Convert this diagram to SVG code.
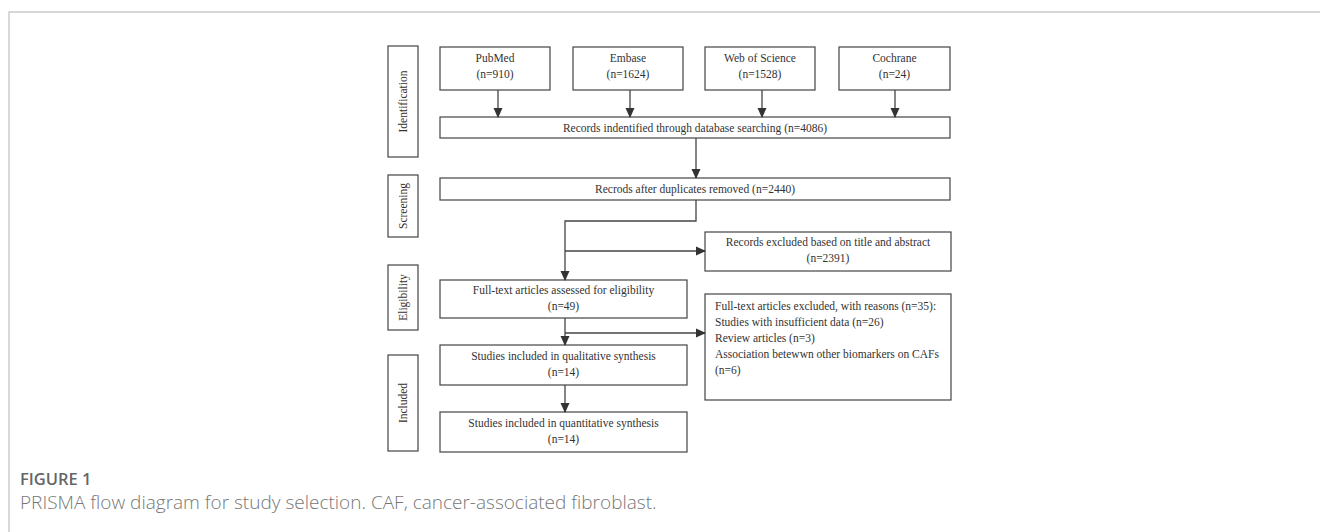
<svg xmlns="http://www.w3.org/2000/svg" width="1320" height="532" viewBox="0 0 1320 532">
<style>
.box{fill:#fff;stroke:#444;stroke-width:1.2}
.t{font-family:"Liberation Serif",serif;font-size:11.5px;fill:#333;text-anchor:middle}
.tl{font-family:"Liberation Serif",serif;font-size:11.5px;fill:#333}
.c{fill:none;stroke:#444;stroke-width:1.3}
.cap1{font-family:"Open Sans",sans-serif;font-size:16.5px;font-weight:600;fill:#666}
.cap2{font-family:"Open Sans",sans-serif;font-size:19px;font-weight:300;fill:#777}
</style>
<defs>
<marker id="ah" markerWidth="10" markerHeight="10" refX="9" refY="5" orient="auto" markerUnits="userSpaceOnUse">
<path d="M0,0.5 L10,5 L0,9.5 Z" fill="#333"/>
</marker>
</defs>
<rect width="1320" height="532" fill="#fff"/>
<path d="M9,532 V12 H1320" fill="none" stroke="#ccc" stroke-width="1.5"/>

<g id="stage-identification"><rect class="box" x="388" y="46" width="30" height="111"/><text class="t" transform="translate(407,101.5) rotate(-90)">Identification</text></g>
<g id="stage-screening"><rect class="box" x="388" y="175" width="30" height="62"/><text class="t" transform="translate(407,206) rotate(-90)">Screening</text></g>
<g id="stage-eligibility"><rect class="box" x="388" y="265" width="30" height="65"/><text class="t" transform="translate(407,297.5) rotate(-90)">Eligibility</text></g>
<g id="stage-included"><rect class="box" x="388" y="355" width="30" height="96"/><text class="t" transform="translate(407,403) rotate(-90)">Included</text></g>

<g id="pubmed"><rect class="box" x="440" y="47" width="110" height="43"/><text class="t" x="495" y="62">PubMed</text><text class="t" x="495" y="78">(n=910)</text></g>
<g id="embase"><rect class="box" x="573" y="47" width="110" height="43"/><text class="t" x="628" y="62">Embase</text><text class="t" x="628" y="78">(n=1624)</text></g>
<g id="wos"><rect class="box" x="705" y="47" width="110" height="43"/><text class="t" x="760" y="62">Web of Science</text><text class="t" x="760" y="78">(n=1528)</text></g>
<g id="cochrane"><rect class="box" x="839" y="47" width="111" height="43"/><text class="t" x="894.5" y="62">Cochrane</text><text class="t" x="894.5" y="78">(n=24)</text></g>

<g id="records-identified"><rect class="box" x="440" y="117" width="510" height="21"/><text class="t" x="695" y="131.5">Records indentified through database searching (n=4086)</text></g>
<g id="records-dedup"><rect class="box" x="440" y="178" width="510" height="22"/><text class="t" x="695" y="193">Recrods after duplicates removed (n=2440)</text></g>
<g id="records-excluded"><rect class="box" x="705" y="232" width="246" height="39"/><text class="t" x="828" y="246">Records excluded based on title and abstract</text><text class="t" x="828" y="262">(n=2391)</text></g>
<g id="fulltext-assessed"><rect class="box" x="440" y="280" width="247" height="38"/><text class="t" x="563.5" y="294">Full-text articles assessed for eligibility</text><text class="t" x="563.5" y="310">(n=49)</text></g>
<g id="fulltext-excluded"><rect class="box" x="705" y="294" width="246" height="106"/><text class="tl" x="715" y="310">Full-text articles excluded, with reasons (n=35):</text><text class="tl" x="715" y="326">Studies with insufficient data (n=26)</text><text class="tl" x="715" y="342">Review articles (n=3)</text><text class="tl" x="715" y="358">Association betewwn other biomarkers on CAFs</text><text class="tl" x="715" y="374">(n=6)</text></g>
<g id="qualitative"><rect class="box" x="440" y="345" width="247" height="40"/><text class="t" x="563.5" y="360">Studies included in qualitative synthesis</text><text class="t" x="563.5" y="376">(n=14)</text></g>
<g id="quantitative"><rect class="box" x="440" y="412" width="247" height="40"/><text class="t" x="563.5" y="427">Studies included in quantitative synthesis</text><text class="t" x="563.5" y="443">(n=14)</text></g>

<g id="connectors">
<path class="c" d="M498,90 V117" marker-end="url(#ah)"/>
<path class="c" d="M630,90 V117" marker-end="url(#ah)"/>
<path class="c" d="M762,90 V117" marker-end="url(#ah)"/>
<path class="c" d="M895,90 V117" marker-end="url(#ah)"/>
<path class="c" d="M696,138 V178" marker-end="url(#ah)"/>
<path class="c" d="M696,200 V221 H565 V280" marker-end="url(#ah)"/>
<path class="c" d="M565,251 H705" marker-end="url(#ah)"/>
<path class="c" d="M565,318 V345" marker-end="url(#ah)"/>
<path class="c" d="M565,333 H705" marker-end="url(#ah)"/>
<path class="c" d="M565,385 V412" marker-end="url(#ah)"/>
</g>

<text class="cap1" x="20" y="485">FIGURE 1</text>
<text class="cap2" x="20" y="509">PRISMA flow diagram for study selection. CAF, cancer-associated fibroblast.</text>
</svg>
